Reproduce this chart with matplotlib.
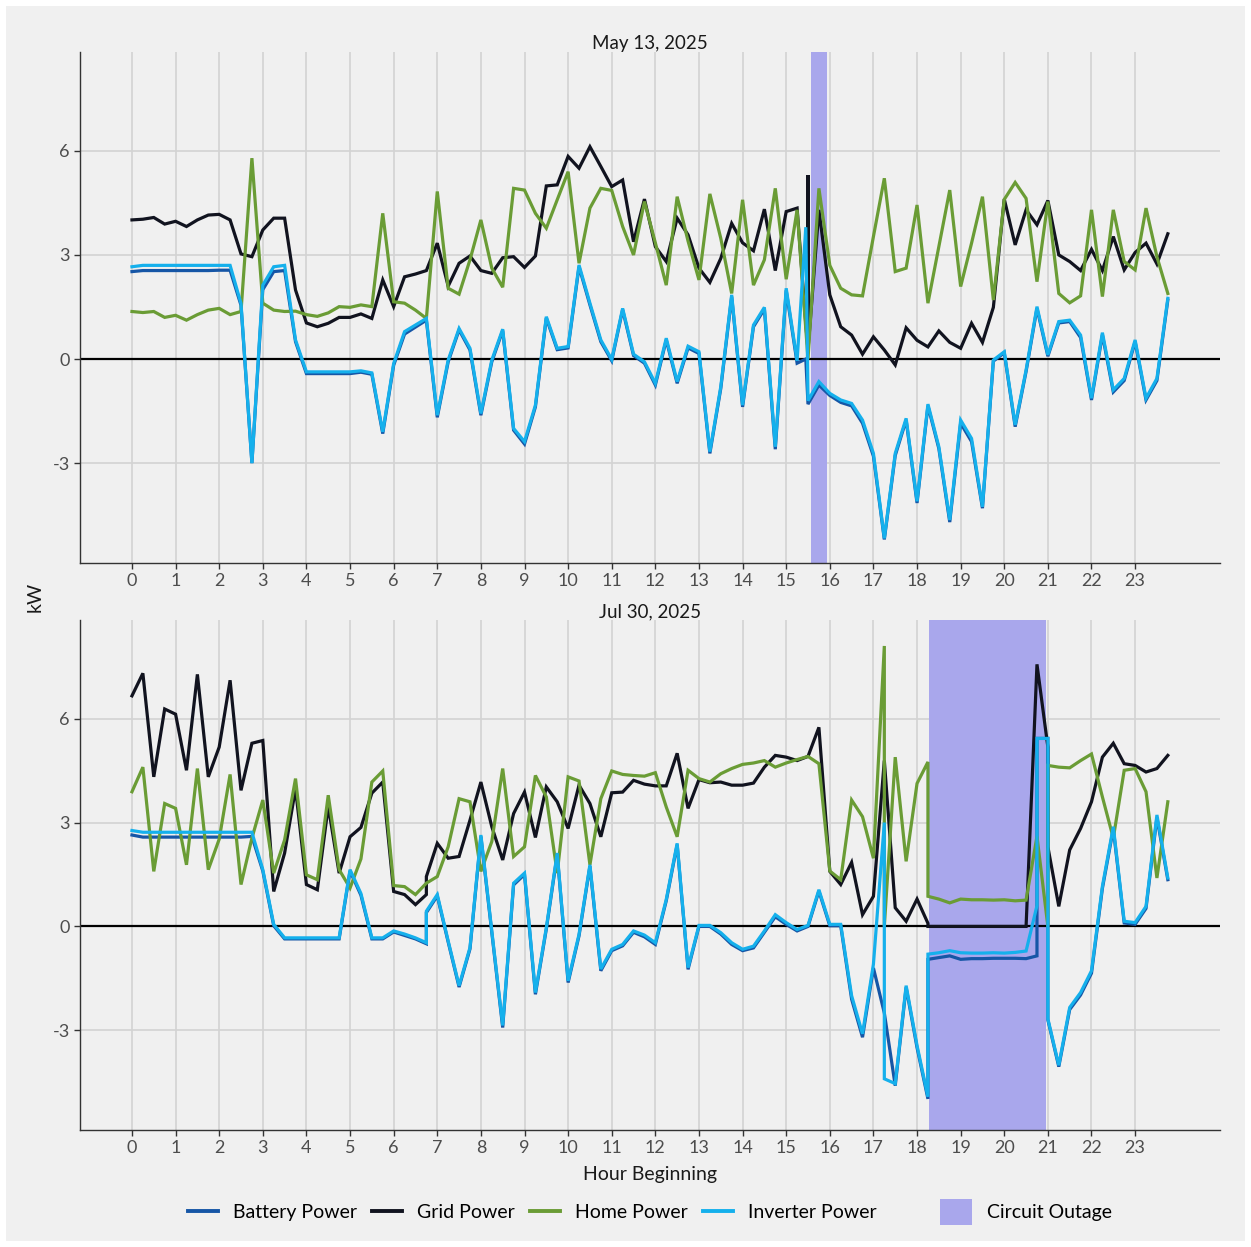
import matplotlib
matplotlib.use("Agg")
import matplotlib.pyplot as plt
from matplotlib.lines import Line2D
from matplotlib.patches import Patch, Rectangle
import numpy as np

plt.rcParams['font.family'] = ['Lato', 'DejaVu Sans']
plt.rcParams['axes.unicode_minus'] = False

# ---- May 13, 2025 (15-minute readings, extra rows where the trace jumps) ----
may_hours = [0, 0.25, 0.5, 0.75, 1, 1.25, 1.5, 1.75, 2, 2.25, 2.5, 2.75,
             3, 3.25, 3.5, 3.75, 4, 4.25, 4.5, 4.75, 5, 5.25, 5.5, 5.75,
             6, 6.25, 6.5, 6.75, 7, 7.25, 7.5, 7.75, 8, 8.25, 8.5, 8.75,
             9, 9.25, 9.5, 9.75, 10, 10.25, 10.5, 10.75, 11, 11.25, 11.5, 11.75,
             12, 12.25, 12.5, 12.75, 13, 13.25, 13.5, 13.75, 14, 14.25, 14.5, 14.75,
             15, 15.25, 15.45, 15.5, 15.5, 15.5, 15.75,
             16, 16.25, 16.5, 16.75, 17, 17.25, 17.5, 17.75,
             18, 18.25, 18.5, 18.75, 19, 19.25, 19.5, 19.75,
             20, 20.25, 20.5, 20.75, 21, 21.25, 21.5, 21.75,
             22, 22.25, 22.5, 22.75, 23, 23.25, 23.5, 23.75]
may_grid = [4.01, 4.03, 4.08, 3.89, 3.97, 3.82, 4.01, 4.15, 4.17, 4.01, 3.03, 2.95,
            3.72, 4.06, 4.06, 1.99, 1.04, 0.93, 1.03, 1.20, 1.20, 1.30, 1.17, 2.28,
            1.51, 2.37, 2.45, 2.55, 3.34, 2.10, 2.76, 2.97, 2.55, 2.47, 2.92, 2.95,
            2.64, 2.97, 4.99, 5.02, 5.84, 5.50, 6.12, 5.55, 4.97, 5.16, 3.38, 4.61,
            3.24, 2.81, 4.06, 3.58, 2.62, 2.21, 2.90, 3.91, 3.35, 3.12, 4.32, 2.55,
            4.25, 4.35, 1.00, 0.26, 5.30, 0.26, 4.30,
            1.85, 0.93, 0.69, 0.14, 0.64, 0.26, -0.17, 0.90,
            0.54, 0.35, 0.81, 0.48, 0.31, 1.03, 0.48, 1.49,
            4.61, 3.29, 4.30, 3.87, 4.57, 3.00, 2.81, 2.55,
            3.16, 2.55, 3.53, 2.57, 3.07, 3.34, 2.74, 3.61]
may_home = [1.37, 1.34, 1.37, 1.20, 1.26, 1.12, 1.28, 1.41, 1.46, 1.28, 1.37, 5.79,
            1.61, 1.41, 1.37, 1.38, 1.28, 1.23, 1.33, 1.51, 1.49, 1.56, 1.51, 4.20,
            1.65, 1.61, 1.41, 1.17, 4.83, 2.04, 1.87, 2.86, 4.01, 2.62, 2.07, 4.92,
            4.87, 4.20, 3.77, 4.59, 5.40, 2.76, 4.35, 4.92, 4.86, 3.82, 3.00, 4.54,
            3.35, 2.13, 4.68, 3.40, 2.28, 4.76, 3.48, 1.89, 4.59, 2.13, 2.86, 4.92,
            2.30, 4.30, 0.86, 0.00, 0.00, 0.00, 4.92,
            2.70, 2.04, 1.85, 1.82, 3.53, 5.21, 2.52, 2.62,
            4.44, 1.61, 3.24, 4.87, 2.09, 3.34, 4.68, 1.70,
            4.60, 5.09, 4.63, 2.23, 4.54, 1.89, 1.62, 1.82,
            4.30, 1.80, 4.30, 2.81, 2.57, 4.35, 2.95, 1.89]
may_inverter = [2.66, 2.70, 2.70, 2.70, 2.70, 2.70, 2.70, 2.70, 2.70, 2.70, 1.60, -3.00,
                2.13, 2.66, 2.70, 0.55, -0.37, -0.37, -0.37, -0.37, -0.37, -0.34, -0.40, -2.10,
                -0.13, 0.79, 0.98, 1.17, -1.62, -0.03, 0.88, 0.31, -1.57, -0.03, 0.86, -2.00,
                -2.38, -1.33, 1.22, 0.31, 0.36, 2.71, 1.61, 0.55, -0.01, 1.46, 0.14, -0.08,
                -0.70, 0.60, -0.65, 0.37, 0.21, -2.67, -0.80, 1.85, -1.33, 0.98, 1.49, -2.53,
                2.04, -0.05, 3.80, -1.20, -1.20, -1.20, -0.65,
                -0.99, -1.18, -1.28, -1.76, -2.72, -5.17, -2.72, -1.71,
                -4.10, -1.30, -2.53, -4.64, -1.76, -2.29, -4.26, -0.03,
                0.21, -1.90, -0.32, 1.51, 0.12, 1.08, 1.12, 0.69,
                -1.13, 0.76, -0.89, -0.56, 0.55, -1.13, -0.56, 1.75]
may_battery = [2.52, 2.55, 2.55, 2.55, 2.55, 2.55, 2.55, 2.55, 2.56, 2.56, 1.55, -3.00,
               2.00, 2.52, 2.55, 0.50, -0.42, -0.42, -0.42, -0.42, -0.42, -0.38, -0.44, -2.15,
               -0.18, 0.72, 0.92, 1.12, -1.68, -0.08, 0.84, 0.26, -1.62, -0.08, 0.82, -2.05,
               -2.45, -1.38, 1.18, 0.27, 0.32, 2.66, 1.56, 0.50, -0.05, 1.42, 0.10, -0.12,
               -0.75, 0.55, -0.70, 0.32, 0.16, -2.72, -0.85, 1.80, -1.38, 0.93, 1.44, -2.60,
               1.98, -0.12, 0.00, -1.30, -1.30, -1.30, -0.75,
               -1.05, -1.25, -1.35, -1.85, -2.80, -5.20, -2.78, -1.76,
               -4.15, -1.35, -2.58, -4.70, -1.85, -2.38, -4.30, -0.06,
               0.18, -1.95, -0.36, 1.46, 0.08, 1.04, 1.08, 0.62,
               -1.18, 0.70, -0.95, -0.62, 0.50, -1.18, -0.62, 1.70]
may_outage = (15.57, 15.93)

# ---- Jul 30, 2025 ----
jul_hours = [0, 0.25, 0.5, 0.75, 1, 1.25, 1.5, 1.75, 2, 2.25, 2.5, 2.75,
             3, 3.25, 3.5, 3.75, 4, 4.25, 4.5, 4.75, 5, 5.25, 5.5, 5.75,
             6, 6.25, 6.5, 6.75, 6.75, 7, 7.25, 7.5, 7.75, 8, 8.25, 8.5, 8.75,
             9, 9.25, 9.5, 9.75, 10, 10.25, 10.5, 10.75, 11, 11.25, 11.5, 11.75,
             12, 12.25, 12.5, 12.75, 13, 13.25, 13.5, 13.75, 14, 14.25, 14.5, 14.75,
             15, 15.25, 15.5, 15.75, 16, 16.25, 16.5, 16.75, 17, 17.25, 17.25, 17.5, 17.75,
             18, 18.25, 18.25, 18.5, 18.75, 19, 19.25, 19.5, 19.75,
             20, 20.25, 20.5, 20.75, 20.75, 21, 21, 21.25, 21.5, 21.75,
             22, 22.25, 22.5, 22.75, 23, 23.25, 23.5, 23.75]
jul_grid = [6.66, 7.31, 4.32, 6.28, 6.13, 4.51, 7.28, 4.32, 5.18, 7.11, 3.93, 5.29,
            5.37, 1.01, 2.12, 3.98, 1.21, 1.06, 3.47, 1.54, 2.59, 2.86, 3.85, 4.17,
            1.01, 0.92, 0.63, 0.92, 1.44, 2.40, 1.97, 2.02, 3.07, 4.17, 2.88, 1.92, 3.26,
            3.88, 2.57, 4.03, 3.60, 2.83, 4.08, 3.55, 2.59, 3.86, 3.88, 4.22, 4.11,
            4.06, 4.06, 5.00, 3.41, 4.24, 4.15, 4.17, 4.08, 4.08, 4.14, 4.60, 4.94,
            4.89, 4.79, 4.91, 5.75, 1.59, 1.21, 1.85, 0.34, 0.87, 4.79, 4.79, 0.54, 0.15,
            0.79, 0.09, 0.00, 0.00, 0.00, 0.00, 0.00, 0.00, 0.00,
            0.00, 0.00, 0.00, 7.57, 7.57, 5.18, 2.30, 0.58, 2.21, 2.83,
            3.60, 4.89, 5.29, 4.70, 4.65, 4.46, 4.56, 4.94]
jul_home = [3.89, 4.60, 1.59, 3.55, 3.41, 1.78, 4.56, 1.64, 2.52, 4.39, 1.21, 2.55,
            3.65, 1.54, 2.50, 4.27, 1.49, 1.35, 3.79, 1.64, 1.11, 1.95, 4.17, 4.49,
            1.18, 1.15, 0.92, 1.25, 1.25, 1.44, 2.30, 3.69, 3.60, 1.59, 2.45, 4.56, 2.02,
            2.30, 4.36, 3.74, 1.54, 4.32, 4.20, 1.78, 3.69, 4.49, 4.39, 4.36, 4.34,
            4.44, 3.45, 2.59, 4.51, 4.27, 4.17, 4.41, 4.56, 4.68, 4.72, 4.79, 4.60,
            4.72, 4.82, 4.91, 4.70, 1.60, 1.35, 3.65, 3.17, 1.97, 8.10, 0.00, 4.89, 1.88,
            4.13, 4.75, 0.87, 0.79, 0.68, 0.79, 0.77, 0.77, 0.76,
            0.77, 0.74, 0.76, 2.60, 2.60, 0.00, 4.65, 4.60, 4.58, 4.79,
            4.98, 3.74, 2.55, 4.51, 4.56, 3.89, 1.40, 3.60]
jul_inverter = [2.77, 2.72, 2.72, 2.72, 2.72, 2.72, 2.72, 2.72, 2.72, 2.72, 2.72, 2.72,
                1.64, 0.06, -0.33, -0.33, -0.33, -0.33, -0.33, -0.33, 1.64, 0.95, -0.33, -0.33,
                -0.13, -0.22, -0.33, -0.47, 0.44, 0.92, -0.42, -1.71, -0.61, 2.64, -0.13, -2.86, 1.25,
                1.54, -1.91, -0.04, 2.12, -1.57, -0.23, 1.78, -1.23, -0.66, -0.52, -0.13, -0.25,
                -0.47, 0.78, 2.40, -1.19, 0.03, 0.03, -0.18, -0.47, -0.66, -0.57, -0.13, 0.34,
                0.11, -0.09, 0.03, 1.06, 0.06, 0.06, -2.00, -3.10, -1.09, 3.00, -4.40, -4.54, -1.71,
                -3.44, -4.92, -0.80, -0.76, -0.70, -0.76, -0.77, -0.77, -0.76,
                -0.77, -0.75, -0.71, 0.60, 5.43, 5.43, -2.67, -4.01, -2.34, -1.91,
                -1.28, 1.16, 2.88, 0.15, 0.11, 0.58, 3.22, 1.40]
jul_battery = [2.64, 2.58, 2.58, 2.58, 2.58, 2.58, 2.58, 2.58, 2.58, 2.58, 2.58, 2.60,
               1.60, 0.02, -0.36, -0.36, -0.36, -0.36, -0.36, -0.36, 1.60, 0.90, -0.36, -0.36,
               -0.16, -0.26, -0.36, -0.50, 0.40, 0.88, -0.45, -1.75, -0.65, 2.60, -0.17, -2.92, 1.20,
               1.50, -1.96, -0.08, 2.08, -1.62, -0.27, 1.74, -1.28, -0.70, -0.56, -0.17, -0.30,
               -0.52, 0.74, 2.36, -1.24, 0.00, 0.00, -0.22, -0.52, -0.70, -0.62, -0.17, 0.28,
               0.06, -0.13, 0.00, 1.02, 0.02, 0.02, -2.10, -3.20, -1.20, -2.50, -2.50, -4.60, -1.76,
               -3.50, -4.98, -0.95, -0.90, -0.85, -0.95, -0.93, -0.93, -0.92,
               -0.92, -0.92, -0.93, -0.85, 5.43, 5.43, -2.70, -4.05, -2.40, -1.98,
               -1.35, 1.10, 2.82, 0.10, 0.06, 0.52, 3.15, 1.35]
jul_outage = (18.27, 20.95)

panels = [
    ("May 13, 2025", may_hours, may_battery, may_grid, may_home, may_inverter, may_outage),
    ("Jul 30, 2025", jul_hours, jul_battery, jul_grid, jul_home, jul_inverter, jul_outage),
]

series_names = ["Battery Power", "Grid Power", "Home Power", "Inverter Power"]
series_colors = ["#1656a6", "#11131f", "#6a9c35", "#15b0ec"]
outage_color = "#a9a7ec"
bg = "#f0f0f0"
text_gray = "#4d4d4d"

fig = plt.figure(figsize=(12.51, 12.47), dpi=100, facecolor="white")
# grey plot background with a thin white margin
fig.patches.append(Rectangle((6 / 1251, 6 / 1247), 1239 / 1251, 1235 / 1247,
                             transform=fig.transFigure, facecolor=bg,
                             edgecolor="none", zorder=-10))

axes = [fig.add_axes([0.064, 0.5485, 0.911, 0.4098]),
        fig.add_axes([0.064, 0.0938, 0.911, 0.4090])]

for ax, (title, hours, bat, grid, home, inv, outage) in zip(axes, panels):
    ax.set_facecolor(bg)
    ax.axvspan(outage[0], outage[1], color=outage_color, zorder=1, lw=0)
    ax.axhline(0, color="black", lw=1.6, zorder=2)
    for vals, c in zip([bat, grid, home, inv], series_colors):
        ax.plot(hours, vals, color=c, lw=2.3, zorder=3, solid_joinstyle="miter")
    ax.set_xlim(-1.19, 24.94)
    ax.set_ylim(-5.88, 8.85)
    ax.set_xticks(np.arange(0, 24))
    ax.set_yticks([-3, 0, 3, 6])
    ax.grid(True, color="#d3d3d3", lw=1.2, zorder=0)
    ax.set_axisbelow(True)
    for s in ["top", "right"]:
        ax.spines[s].set_visible(False)
    for s in ["left", "bottom"]:
        ax.spines[s].set_color("#333333")
        ax.spines[s].set_linewidth(1.0)
    ax.tick_params(colors=text_gray, labelsize=13, length=4, width=1, color="#333333")
    ax.set_title(title, fontsize=13.5, color="#1a1a1a", pad=1)

axes[1].set_xlabel("Hour Beginning", fontsize=14, color="#1a1a1a", labelpad=7)
fig.text(0.028, 0.521, "kW", rotation=90, fontsize=14, color="#1a1a1a",
         ha="center", va="center")

# line keys and the outage key sit in two groups, like the original legend
line_handles = [Line2D([], [], color=c, lw=2.8) for c in series_colors]
fig.legend(line_handles, series_names, loc="center left",
           bbox_to_anchor=(188 / 1251, 0.028), ncol=4, frameon=False, fontsize=14,
           borderpad=0, borderaxespad=0, handlelength=1.55, handletextpad=0.75,
           columnspacing=0.8)
fig.legend([Patch(facecolor=outage_color, edgecolor="none")], ["Circuit Outage"],
           loc="center left", bbox_to_anchor=(940 / 1251, 0.028), frameon=False,
           fontsize=14, borderpad=0, borderaxespad=0, handlelength=1.65,
           handleheight=1.65, handletextpad=0.75)

fig.savefig("out.png", dpi=100, facecolor="white")
